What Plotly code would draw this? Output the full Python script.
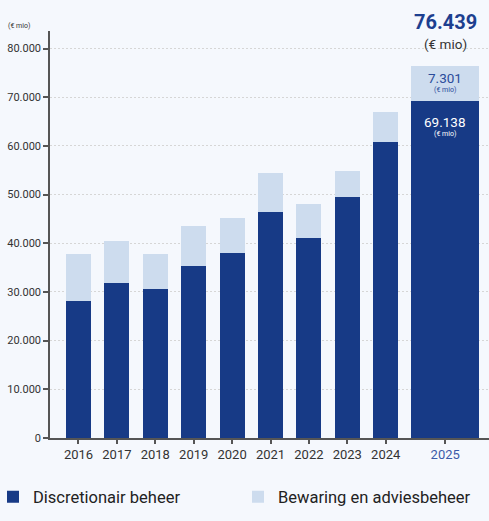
import plotly.graph_objects as go

years = ["2016", "2017", "2018", "2019", "2020", "2021", "2022", "2023", "2024", "2025"]
discretionair = [28100, 31800, 30600, 35300, 38000, 46400, 41100, 49500, 60800, 69138]
bewaring = [9700, 8650, 7200, 8250, 7200, 8000, 6950, 5350, 6150, 7301]
total_2025 = 76439
y_ticks = [0, 10000, 20000, 30000, 40000, 50000, 60000, 70000, 80000]

DARK = "#173a86"
LIGHT = "#cddcee"
BG = "#f5f8fd"
TXT = "#333333"
FONT = "Roboto"

# positions: regular spacing, last (highlighted) bar set further apart and wider
pos = [float(i) for i in range(len(years) - 1)] + [len(years) - 1 + 0.55]
widths = [0.65] * (len(years) - 1) + [1.77]

ticktext = years[:-1] + ['<span style="color:#3b5ba9">' + years[-1] + '</span>']

fig = go.Figure()
fig.add_trace(go.Bar(x=pos, y=discretionair, width=widths, name="Discretionair beheer",
                     marker=dict(color=DARK, line=dict(width=0)), hoverinfo="skip"))
fig.add_trace(go.Bar(x=pos, y=bewaring, width=widths, name="Bewaring en adviesbeheer",
                     marker=dict(color=LIGHT, line=dict(width=0)), hoverinfo="skip"))

xl = pos[-1]
d_last = discretionair[-1]
anns = [
    dict(x=xl, y=total_2025, yshift=44, text="<b>76.439</b>", font=dict(size=20, color="#1d3f8f", family=FONT)),
    dict(x=xl, y=total_2025, yshift=22, text="(€ mio)", font=dict(size=13.5, color=TXT, family=FONT)),
    dict(x=xl, y=total_2025, yshift=-12, text="7.301", font=dict(size=13.5, color="#2b4c9b", family=FONT)),
    dict(x=xl, y=total_2025, yshift=-24.5, text="(€ mio)", font=dict(size=7, color="#2b4c9b", family=FONT)),
    dict(x=xl, y=d_last, yshift=-21, text="69.138", font=dict(size=13.5, color="white", family=FONT)),
    dict(x=xl, y=d_last, yshift=-33, text="(€ mio)", font=dict(size=7, color="white", family=FONT)),
]
for a in anns:
    a.update(xref="x", yref="y", showarrow=False, xanchor="center", yanchor="middle")
    fig.add_annotation(**a)

fig.add_annotation(xref="paper", yref="paper", x=-44 / 439, y=1, yshift=5,
                   xanchor="left", yanchor="middle", showarrow=False,
                   text="(€ mio)", font=dict(size=7, color=TXT, family=FONT))

fig.update_layout(
    width=489, height=521,
    margin=dict(l=50, r=0, t=31, b=83, autoexpand=False),
    paper_bgcolor=BG, plot_bgcolor=BG,
    barmode="stack",
    separators=",.",
    font=dict(family=FONT, color=TXT),
    showlegend=True,
    legend=dict(orientation="h", x=-57 / 439, xanchor="left", y=-0.145, yanchor="middle",
                font=dict(size=16.5, color="#222222", family=FONT),
                entrywidth=200, entrywidthmode="pixels", bgcolor="rgba(0,0,0,0)",
                itemclick=False, itemdoubleclick=False, traceorder="normal"),
    xaxis=dict(range=[-0.742, 10.69], tickmode="array", tickvals=pos, ticktext=ticktext,
               showgrid=False, zeroline=False, showline=True, linecolor="#555555", linewidth=1.5,
               ticks="outside", ticklen=4, tickcolor="#555555", tickwidth=1.5,
               tickfont=dict(size=13, color=TXT, family=FONT), fixedrange=True),
    yaxis=dict(range=[0, 83600], tickmode="array", tickvals=y_ticks,
               tickformat=",d", showgrid=True, gridcolor="#d6d6d6", griddash="2px,2px", gridwidth=1,
               zeroline=False, showline=True, linecolor="#555555", linewidth=1.5,
               ticks="outside", ticklen=5, tickcolor="#555555", tickwidth=1.5,
               tickfont=dict(size=11, color=TXT, family=FONT), fixedrange=True),
)

fig.write_html("out.html", config={"displayModeBar": False},
               post_script="document.body.style.margin='0';document.body.style.padding='0';"
                           "document.body.style.background='" + BG + "';")
